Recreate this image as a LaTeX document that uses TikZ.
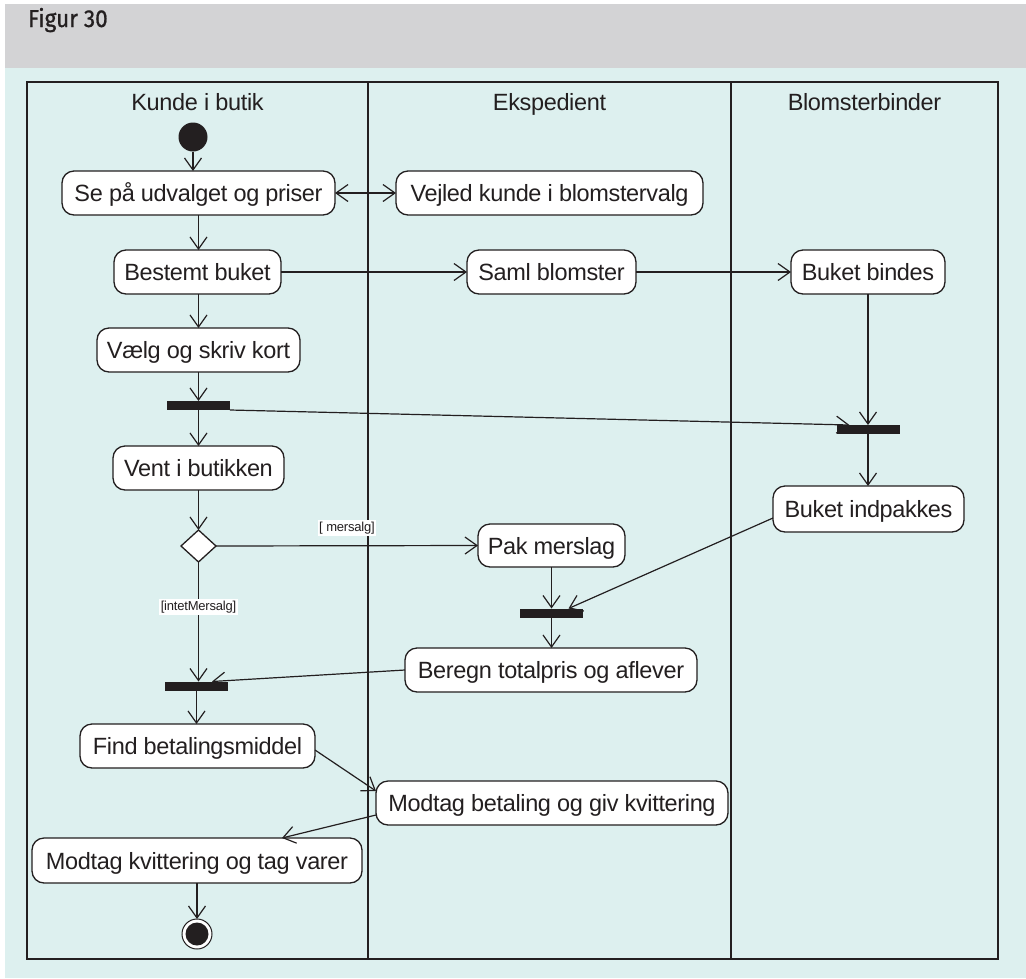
\documentclass[tikz,border=0pt]{standalone}
\usepackage{fontspec}
\setmainfont{Liberation Sans}[LetterSpace=-1.5]
\newfontfamily\figfont{Fira Sans}[FakeBold=0.9]
\usetikzlibrary{arrows.meta,shapes.geometric,calc}

\definecolor{bandgray}{RGB}{211,211,213}
\definecolor{lanebg}{RGB}{221,240,239}
\definecolor{ink}{RGB}{35,31,32}

\begin{document}
\begin{tikzpicture}[x=1pt,y=-1pt,
  every node/.style={inner sep=0pt, outer sep=0pt},
  action/.style={draw=ink, fill=white, line width=1.3pt, rounded corners=12pt,
    minimum height=44pt, text height=17pt, text depth=0pt,
    font=\fontsize{23.5}{27}\selectfont, text=ink},
  syncbar/.style={fill=ink, minimum width=63pt, minimum height=9pt},
  flow/.style={draw=ink, line width=1.2pt,
    -{Straight Barb[length=12pt,width=17pt]}},
  twoway/.style={draw=ink, line width=1.2pt,
    {Straight Barb[length=12pt,width=17pt]}-{Straight Barb[length=12pt,width=17pt]}},
  guard/.style={fill=white, font=\fontsize{13}{15}\selectfont, text=ink,
    inner xsep=1.5pt, inner ysep=2pt},
  lanetitle/.style={font=\fontsize{23.5}{27}\selectfont, text=ink, anchor=base},
  lane/.style={draw=ink, line width=1.6pt}
]
\useasboundingbox (0,0) rectangle (1026,978);
\fill[white] (0,0) rectangle (1026,978);
\fill[bandgray] (5,4) rectangle (1026,68);
\fill[lanebg] (5,68) rectangle (1026,978);
\node[anchor=base west, text=ink] (fig) at (28,27)
  {\scalebox{0.92}[1]{\figfont\fontsize{24.5}{27}\selectfont Figur 30}};

% swimlanes
\draw[lane] (27,82) rectangle (998,959);
\draw[lane] (368,82) -- (368,959);
\draw[lane] (731,82) -- (731,959);
\node[lanetitle] (laneA) at (197.5,110) {Kunde i butik};
\node[lanetitle] (laneB) at (549.5,110) {Ekspedient};
\node[lanetitle] (laneC) at (864.5,110) {Blomsterbinder};

% activities
\node[circle, fill=ink, minimum size=29pt] (start) at (193,137) {};
\node[action, minimum width=273pt] (se) at (198.5,193) {Se på udvalget og priser};
\node[action, minimum width=307pt] (vejled) at (549.5,193) {Vejled kunde i blomstervalg};
\node[action, minimum width=167pt] (bestemt) at (197.5,272) {Bestemt buket};
\node[action, minimum width=169pt] (saml) at (551.5,272) {Saml blomster};
\node[action, minimum width=154pt] (bindes) at (868,272) {Buket bindes};
\node[action, minimum width=203pt] (vaelg) at (198.5,350) {Vælg og skriv kort};
\node[syncbar] (bar1) at (198.5,405.5) {};
\node[syncbar] (bar2) at (868,429.5) {};
\node[action, minimum width=171pt] (vent) at (198.5,468) {Vent i butikken};
\node[diamond, draw=ink, fill=white, line width=1.3pt, minimum width=35pt, minimum height=32pt] (dec) at (198.5,546) {};
\node[action, minimum width=147pt, minimum height=43pt] (pak) at (551.5,545.5) {Pak merslag};
\node[action, minimum width=191pt, minimum height=46pt] (indpak) at (868.5,509) {Buket indpakkes};
\node[syncbar] (bar4) at (551.5,613) {};
\node[action, minimum width=292pt] (beregn) at (551,670) {Beregn totalpris og aflever};
\node[syncbar] (bar3) at (196.5,686) {};
\node[action, minimum width=235pt] (find) at (197.5,746) {Find betalingsmiddel};
\node[action, minimum width=352pt] (modbet) at (552,803) {Modtag betaling og giv kvittering};
\node[action, minimum width=330pt, minimum height=45pt] (modkv) at (197,860.5) {Modtag kvittering og tag varer};
\node[circle, draw=ink, line width=1pt, fill=white, minimum size=30pt] (stop) at (197,934) {};
\node[circle, fill=ink, minimum size=23pt] (stopdot) at (stop) {};

% control flow
\draw[flow] (start) -- (start |- se.north);
\draw[twoway] (se) -- (vejled);
\draw[flow] (se.south) -- (se.south |- bestemt.north);
\draw[flow] (bestemt) -- (saml);
\draw[flow] (saml) -- (bindes);
\draw[flow] (bestemt.south -| vaelg.north) -- (vaelg.north);
\draw[flow] (vaelg.south) -- (vaelg.south |- bar1.north);
\draw[flow] (bar1.south) -- (bar1.south |- vent.north);
\draw[flow] (bar1.south east) -- ([xshift=13pt]bar2.north west);
\draw[flow] (bindes.south) -- (bindes.south |- bar2.north);
\draw[flow] (bar2.south) -- (bar2.south |- indpak.north);
\draw[flow] (vent.south) -- (vent.south |- dec.north);
\draw[flow] (dec.east) -- node[guard, pos=0.5, above=10pt] (gmer) {[ mersalg]} (pak.west);
\draw[flow] (dec.south) -- node[guard, pos=0.375] (gintet) {[intetMersalg]} (dec.south |- bar3.north);
\draw[flow] (pak.south) -- (pak.south |- bar4.north);
\draw[flow] ([yshift=-9pt]indpak.west) -- ([xshift=17pt]bar4.north);
\draw[flow] (bar4.south) -- (bar4.south |- beregn.north);
\draw[flow] (beregn.west) -- ([xshift=-16pt]bar3.north east);
\draw[flow] (bar3.south) -- (bar3.south |- find.north);
\draw[flow] ([yshift=-4pt]find.east) -- ([yshift=12pt]modbet.west);
\draw[flow] ([yshift=-12pt]modbet.west) -- ([xshift=-80pt]modkv.north east);
\draw[flow] (modkv.south) -- (modkv.south |- stop.north);
\end{tikzpicture}
\end{document}
